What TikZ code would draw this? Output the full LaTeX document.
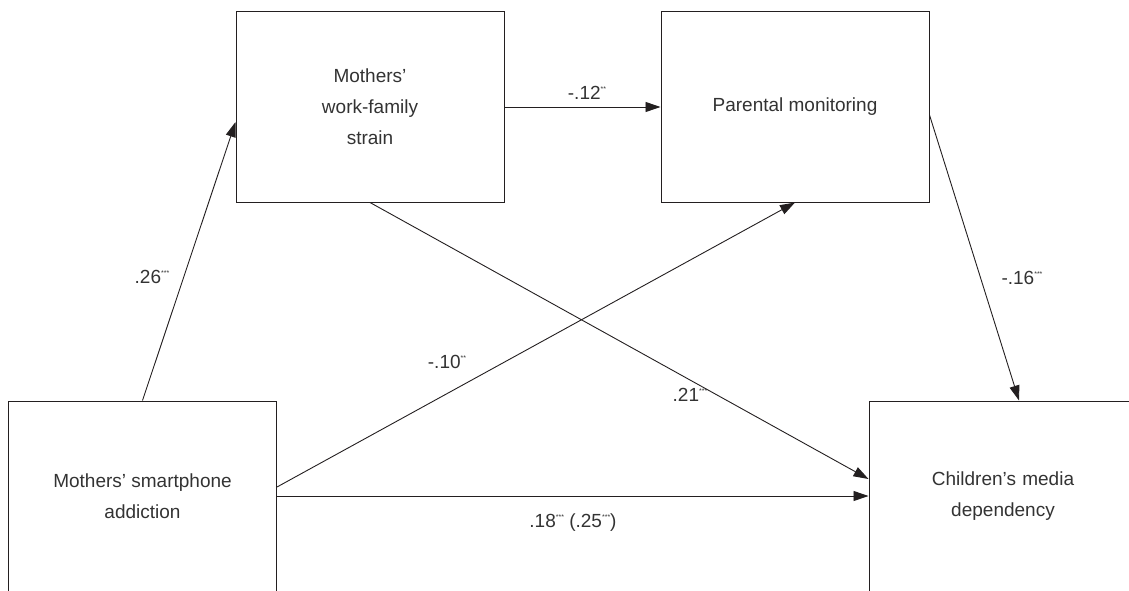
\documentclass[tikz,border=0pt]{standalone}
\usepackage{fontspec}
\setmainfont{Liberation Sans}
\usetikzlibrary{arrows.meta,calc}
\definecolor{ink}{HTML}{231F20}
\definecolor{txt}{HTML}{333333}
\newcommand{\sg}[1]{\raisebox{8pt}{\fontsize{7}{7}\selectfont #1}}
\begin{document}
\begin{tikzpicture}[x=1pt,y=-1pt,
  box/.style={draw=ink,line width=1pt,minimum width=268pt,minimum height=190pt,inner sep=0pt,align=center,text=txt,font=\fontsize{19}{31}\selectfont},
  conn/.style={draw=ink,line width=0.9pt,-{Triangle[length=15pt,width=10pt]}},
  lab/.style={text=txt,font=\fontsize{19}{20}\selectfont,inner sep=0pt}]
\useasboundingbox (0,0) rectangle (1129,591);
\clip (0,0) rectangle (1129,591);
\node[box] (WF) at (370,107) {Mothers'\\work-family\\strain};
\node[box] (PM) at (795,107) {Parental monitoring};
\node[box] (SA) at (142.5,496) {Mothers' smartphone\\addiction};
\node[box,text width=268pt] (CD) at (1003,496) {Children's media\\dependency};
\coordinate (WFin) at ([yshift=-15pt]WF.west);
\coordinate (CDin1) at ([yshift=17pt]CD.west);
\coordinate (CDtop) at ([xshift=16pt]CD.north);
\coordinate (PMout) at ([yshift=-8pt]PM.east);
\coordinate (SAout) at ([yshift=9pt]SA.east);
\draw[conn] (SA.north) -- (WFin);
\draw[conn] (WF.east) -- (PM.west);
\draw[conn] (PMout) -- (CDtop);
\draw[conn] (WF.south) -- (CDin1);
\draw[conn] (SAout) -- (PM.south);
\draw[conn] (SA.east) -- (CD.west);
\node[lab] (l1) at (152,277) {.26\sg{***}};
\node[lab] (l2) at (587,93) {-.12\sg{**}};
\node[lab] (l3) at (447,362) {-.10\sg{**}};
\node[lab] (l4) at (690,395) {.21\sg{***}};
\node[lab] (l5) at (1022,278) {-.16\sg{***}};
\node[lab] (l6) at (573,523) {.18\sg{***} (.25\sg{***})};
\end{tikzpicture}
\end{document}
